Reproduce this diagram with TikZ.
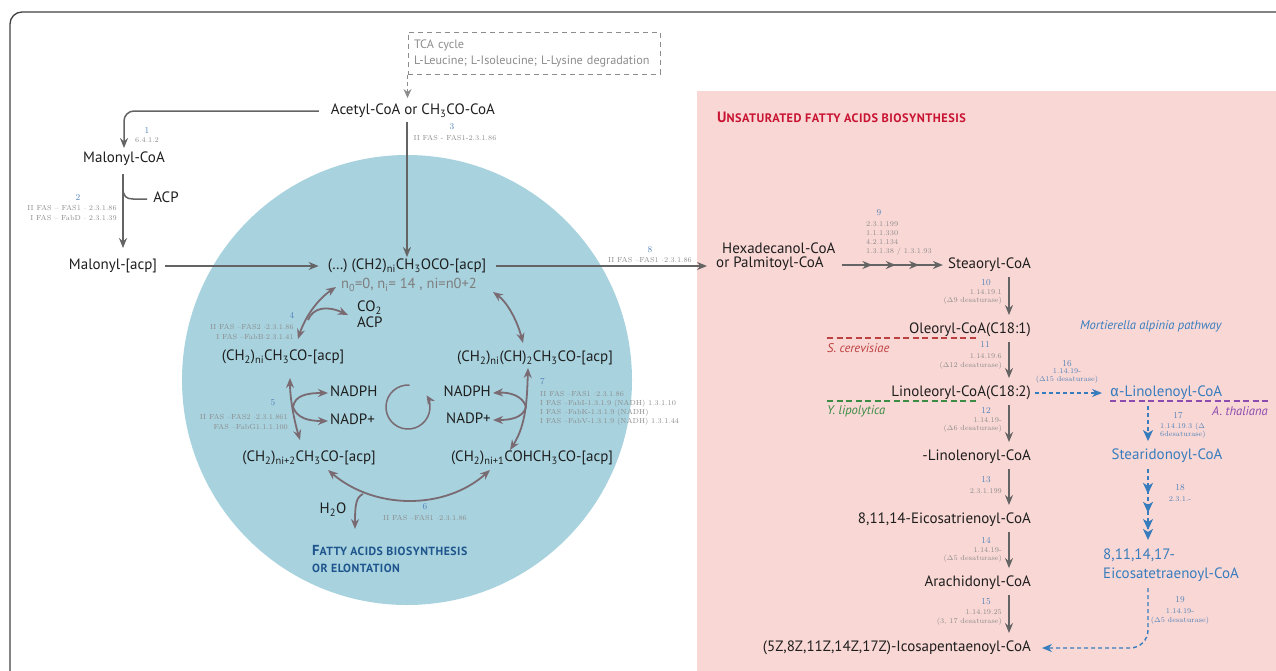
\documentclass[tikz,border=0pt]{standalone}
\usepackage{fontspec}
\newfontfamily\pts{PT Sans}
\newfontfamily\ptsls{PT Sans}[LetterSpace=4]
\newfontfamily\fir{Fira Sans}
\usetikzlibrary{arrows.meta,decorations.markings}
\newcommand\sbs[1]{\textsubscript{#1}}
\definecolor{txt}{RGB}{30,30,30}
\definecolor{garr}{RGB}{100,100,100}
\definecolor{carr}{RGB}{122,106,114}
\definecolor{enzg}{RGB}{140,140,140}
\definecolor{numb}{RGB}{80,130,185}
\definecolor{blu}{RGB}{55,125,190}
\definecolor{circbg}{RGB}{167,210,222}
\definecolor{pinkbg}{RGB}{249,215,212}
\definecolor{crim}{RGB}{200,20,50}
\definecolor{dblu}{RGB}{30,85,140}
\definecolor{redd}{RGB}{190,65,65}
\definecolor{grn}{RGB}{60,140,70}
\definecolor{purp}{RGB}{140,75,175}
\definecolor{tcag}{RGB}{140,140,140}
\begin{document}
\begin{tikzpicture}[x=1pt,y=-1pt,
  mol/.style={font=\pts\fontsize{15}{16}\selectfont, text=txt, inner sep=0pt, text height=10.5pt, text depth=3pt},
  mol2/.style={font=\pts\fontsize{15}{14}\selectfont, text=txt, inner sep=0pt},
  bmol/.style={mol, text=blu},
  bmol2/.style={font=\pts\fontsize{15}{19}\selectfont, text=blu, inner sep=0pt},
  enz/.style={font=\fontsize{7.3}{10}\selectfont, text=enzg, inner sep=0pt},
  benz/.style={enz, text=numb},
  num/.style={font=\fontsize{9}{10}\selectfont, text=numb, inner sep=0pt},
  garrow/.style={draw=garr, line width=1.5pt, -{Stealth[length=10pt,width=8pt]}},
  gline/.style={draw=garr, line width=1.5pt},
  carrow/.style={draw=carr, line width=1.8pt, {Stealth[length=10pt,width=8pt]}-{Stealth[length=10pt,width=8pt]}},
  carrowone/.style={draw=carr, line width=1.8pt, -{Stealth[length=10pt,width=8pt]}},
  bdash/.style={draw=blu, line width=1.4pt, dash pattern=on 4pt off 3pt},
  bhead/.style={-{Stealth[length=11pt,width=10pt,inset=3pt]}},
  sp/.style={font=\pts\itshape\fontsize{12.6}{14}\selectfont, inner sep=0pt},
  spline/.style={line width=1.3pt, dash pattern=on 6pt off 3.5pt}
]
\useasboundingbox (0,0) rectangle (1276,670);
\clip (0,0) rectangle (1276,670);
% frame
\draw[line width=1.3pt, draw=black!75, rounded corners=12pt] (10,700) -- (10,12) -- (1300,12);
% backgrounds
\fill[pinkbg] (697,91) rectangle (1290,700);
\fill[circbg] (407,380) circle (225);

% ---- top / left
\node[draw=tcag, line width=1pt, dash pattern=on 5pt off 4pt, minimum width=252pt, minimum height=42pt,
      text width=240pt, align=left, inner sep=0pt, text=tcag, font=\pts\fontsize{12.2}{16}\selectfont]
      (tca) at (534,53) {TCA cycle\\L-Leucine; L-Isoleucine; L-Lysine degradation};
\node[mol] (acetyl) at (413,111) {Acetyl-CoA or CH\sbs{3}CO-CoA};
\draw[draw=tcag, line width=1.2pt, dash pattern=on 4pt off 3pt, -{Stealth[length=9pt,width=8pt]}, shorten >=6pt]
      (tca.south west) -- (tca.south west |- acetyl.north);

\node[mol] (malcoa) at (124,159) {Malonyl-CoA};
\draw[garrow, rounded corners=10pt, shorten <=12pt, shorten >=4pt] (acetyl.west) -| (malcoa.north);
\node[num] (n1) at (147,130) {1};
\node[enz] (e1) at (147,140) {6.4.1.2};

\node[mol] (malacp) at (113,266) {Malonyl-[acp]};
\coordinate (c2) at (123,0);
\draw[garrow, shorten <=8pt, shorten >=11pt] (malcoa.south -| c2) -- (malacp.north -| c2);
\coordinate (acpb) at (123,188);
\node[mol] (acp) at (166,199) {ACP};
\draw[gline, shorten >=6pt] (acpb) .. controls (123,196) and (126,199) .. (133,199) -- (acp.west);
\node[num] (n2) at (78,197) {2};
\node[enz, anchor=east, align=right] (e2) at (117,213) {II FAS -- FAS1 $\cdot$ 2.3.1.86\\I FAS -- FabD $\cdot$ 2.3.1.39};

% ---- cycle
\node[mol] (cyc) at (407,266) {(\dots) (CH2)\sbs{ni}CH\sbs{3}OCO-[acp]};
\node[font=\pts\fontsize{14.5}{16}\selectfont, text=enzg!90!black, inner sep=0pt] (nline) at (409,285) {n\sbs{0}=0, n\sbs{i}= 14 , ni=n0+2};
\draw[garrow, shorten <=8pt, shorten >=9pt] (malacp.east) -- (cyc.west);
\draw[garrow, shorten <=4pt, shorten >=2pt] (cyc.north |- acetyl.south) -- (cyc.north);
\node[num] (n3) at (452,127) {3};
\node[enz] (e3) at (455,138) {II FAS - FAS1-2.3.1.86};

\node[mol] (m1) at (283,357) {(CH\sbs{2})\sbs{ni}CH\sbs{3}CO-[acp]};
\node[mol] (m2) at (535,358) {(CH\sbs{2})\sbs{ni}(CH)\sbs{2}CH\sbs{3}CO-[acp]};
\node[mol] (m3) at (309,458) {(CH\sbs{2})\sbs{ni+2}CH\sbs{3}CO-[acp]};
\node[mol] (m4) at (532,458) {(CH\sbs{2})\sbs{ni+1}COHCH\sbs{3}CO-[acp]};
\node[mol, anchor=west] (co2) at (357,308) {CO\sbs{2}};
\node[mol, anchor=west] (acp2) at (357,324) {ACP};
\node[mol, anchor=west] (nadph1) at (330,393) {NADPH};
\node[mol, anchor=west] (nadp1) at (330,421) {NADP+};
\node[mol, anchor=east] (nadph2) at (491,393) {NADPH};
\node[mol, anchor=east] (nadp2) at (491,420) {NADP+};
\node[mol] (h2o) at (333,510) {H\sbs{2}O};

% step 4
\coordinate (a4) at (336,287);
\coordinate (b4) at (298,339);
\coordinate (s4) at (308,320);
\draw[carrow] (a4) .. controls (318,299) and (305,317) .. (b4);
\draw[carrowone] (s4) .. controls (313,308) and (326,305) .. ([xshift=-9pt]co2.west |- co2.south);
\node[num] (n4) at (292,315) {4};
\node[enz, anchor=east, align=right] (e4) at (294,332) {II FAS --FAS2 $\cdot$2.3.1.86\\I FAS --FabB$\cdot$2.3.1.41};
% step 5
\coordinate (a5) at (290,378);
\coordinate (b5) at (300,440);
\coordinate (s5) at (293,407);
\draw[carrow] (a5) .. controls (290,398) and (294,420) .. (b5);
\draw[carrowone] (s5) .. controls (295,396) and (305,393) .. ([xshift=-2pt]nadph1.west);
\draw[carrowone] (s5) .. controls (297,418) and (308,421) .. ([xshift=-2pt]nadp1.west);
\node[num] (n5) at (273,403) {5};
\node[enz, anchor=east, align=right] (e5) at (288,422) {II FAS --FAS2 $\cdot$2.3.1.861\\FAS --FabG1.1.1.100};
% step 6
\coordinate (a6) at (328,470);
\coordinate (b6) at (490,470);
\coordinate (s6) at (363,494);
\draw[carrow] (a6) .. controls (375,510) and (445,510) .. (b6);
\draw[carrowone] (s6) .. controls (356,497) and (355,505) .. ([yshift=-12pt]h2o.south -| 355,0);
\node[num] (n6) at (425,507) {6};
\node[enz] (e6) at (425,518) {II FAS --FAS1 $\cdot$2.3.1.86};
% step 7
\coordinate (a7) at (528,368);
\coordinate (b7) at (510,450);
\coordinate (s7) at (526,407);
\draw[carrow] (a7) .. controls (527,400) and (526,425) .. (b7);
\draw[carrowone] (s7) .. controls (523,396) and (510,392) .. ([xshift=2pt]nadph2.east);
\draw[carrowone] (s7) .. controls (523,418) and (510,420) .. ([xshift=2pt]nadp2.east);
\node[num, anchor=west] (n7) at (540,382) {7};
\node[enz, anchor=north west, align=left, font=\fontsize{7.3}{9}\selectfont] (e7) at (540,391) {II FAS --FAS1 $\cdot$2.3.1.86\\I FAS --FabI-1.3.1.9 (NADH) 1.3.1.10\\I FAS --FabK-1.3.1.9 (NADH)\\I FAS --FabV-1.3.1.9 (NADH) 1.3.1.44};
% closing
\coordinate (a8) at (493,292);
\coordinate (b8) at (523,343);
\draw[carrow] (a8) .. controls (507,302) and (517,320) .. (b8);
% centre loop
\draw[draw=carr, line width=1.5pt, -{Stealth[length=9pt,width=8pt]}] (409.5,385.1) arc[start angle=-86, end angle=-392, radius=22];

\node[anchor=west, align=left, text=dblu, font=\ptsls\bfseries\fontsize{11.8}{17}\selectfont, inner sep=0pt] (fa) at (312,558.5)
  {{\fontsize{14.5}{17}\selectfont F}ATTY ACIDS BIOSYNTHESIS\\OR ELONTATION};

% ---- to the right
\node[mol2, anchor=west, align=left] (hexa) at (716,257) {\hspace*{6pt}Hexadecanol-CoA\\or Palmitoyl-CoA};
\draw[garrow, shorten <=10pt, shorten >=9pt] (cyc.east) -- (cyc.east -| hexa.west);
\node[num] (n8) at (650,250) {8};
\node[enz] (e8) at (650,260) {II FAS --FAS1 $\cdot$2.3.1.86};

\node[anchor=west, text=crim, font=\ptsls\bfseries, inner sep=0pt] (title) at (717,117)
  {{\fontsize{15}{15}\selectfont U}{\fontsize{12.3}{12}\selectfont NSATURATED FATTY ACIDS BIOSYNTHESIS}};

\node[mol, anchor=east] (stea) at (1031,265) {Steaoryl-CoA};
\draw[gline, postaction=decorate, -{Stealth[length=10pt,width=8pt]},
  decoration={markings,
    mark=at position 0.29 with {\arrow{Stealth[length=10pt,width=8pt]}},
    mark=at position 0.51 with {\arrow{Stealth[length=10pt,width=8pt]}},
    mark=at position 0.73 with {\arrow{Stealth[length=10pt,width=8pt]}}},
  shorten >=5pt] ([xshift=6pt]hexa.east |- stea.west) -- (stea.west);
\node[num] (n9) at (879,213) {9};
\node[enz, anchor=north west, align=left, font=\fontsize{7.3}{9.3}\selectfont] (e9) at (866,221) {2.3.1.199\\1.1.1.330\\4.2.1.134\\1.3.1.38 / 1.3.1.93};

\node[mol, anchor=east] (olea) at (1031,330) {Oleoryl-CoA(C18:1)};
\node[mol, anchor=east] (lino) at (1031,393) {Linoleoryl-CoA(C18:2)};
\node[mol, anchor=east] (glin) at (1031,457) {-Linolenoryl-CoA};
\node[mol, anchor=east] (eico) at (1031,520) {8,11,14-Eicosatrienoyl-CoA};
\node[mol, anchor=east] (arac) at (1031,583) {Arachidonyl-CoA};
\node[mol, anchor=east] (icos) at (1031,648) {(5Z,8Z,11Z,14Z,17Z)-Icosapentaenoyl-CoA};

\coordinate (cx) at (1009,0);
\foreach \a/\b in {stea/olea, olea/lino, lino/glin, glin/eico, eico/arac, arac/icos}
  \draw[garrow, shorten <=5pt, shorten >=8pt] (\a.south -| cx) -- (\b.north -| cx);

\node[num] (n10) at (986,283) {10};
\node[enz, anchor=east, align=right, font=\fontsize{7.3}{8}\selectfont] (e10) at (1002,297) {1.14.19.1\\($\Delta$9 desaturase)};
\node[num] (n11) at (985,344) {11};
\node[enz, anchor=east, align=right, font=\fontsize{7.3}{9}\selectfont] (e11) at (1002,361.5) {1.14.19.6\\($\Delta$12 desaturase)};
\node[num] (n12) at (986,410) {12};
\node[enz, anchor=east, align=right, font=\fontsize{7.3}{8}\selectfont] (e12) at (1002,425) {1.14.19-\\($\Delta$6 desaturase)};
\node[num] (n13) at (986,480) {13};
\node[enz, anchor=east] (e13) at (1002,491) {2.3.1.199};
\node[num] (n14) at (986,540) {14};
\node[enz, anchor=east, align=right, font=\fontsize{7.3}{8}\selectfont] (e14) at (1002,555) {1.14.19-\\($\Delta$5 desaturase)};
\node[num] (n15) at (986,602) {15};
\node[enz, anchor=east, align=right, font=\fontsize{7.3}{9}\selectfont] (e15) at (1002,617.5) {1.14.19.25\\(3, 17 desaturase)};

% species
\draw[spline, draw=redd] (827,338) -- (978,338);
\node[sp, text=redd, anchor=west] (sc) at (827,348) {S. cerevisiae};
\draw[spline, draw=grn] (827,401) -- (978,401);
\node[sp, text=grn, anchor=west] (yl) at (827,411) {Y. lipolytica};
\draw[spline, draw=purp] (1110,401) -- (1268,401);
\node[sp, text=purp, anchor=east] (at) at (1268,411) {A. thaliana};
\node[sp, text=blu, anchor=west] (mort) at (1080,326) {Mortierella alpinia pathway};

% blue pathway
\node[bmol, anchor=west] (alin) at (1110,393) {{\fir α}-Linolenoyl-CoA};
\node[bmol] (stear) at (1167,456) {Stearidonoyl-CoA};
\node[bmol2, anchor=west, align=left] (etet) at (1103,565.5) {8,11,14,17-\\Eicosatetraenoyl-CoA};
\coordinate (bx) at (1148,0);

\draw[bdash, -{Stealth[length=10pt,width=8pt]}, shorten <=4pt, shorten >=8pt] (lino.east) -- (alin.west);
\node[num] (n16) at (1067,364) {16};
\node[benz, align=center, font=\fontsize{7.3}{8}\selectfont] (e16) at (1067,376) {1.14.19-\\($\Delta$15 desaturase)};

\draw[bdash, bhead, shorten <=6pt, shorten >=8pt] (alin.south -| bx) -- (stear.north -| bx);
\node[num] (n17) at (1178,416) {17};
\node[benz, anchor=west, align=left, font=\fontsize{7.3}{8}\selectfont] (e17) at (1160,431) {1.14.19.3 ($\Delta$\\6desaturase)};

\draw[bdash, bhead, postaction=decorate,
  decoration={markings,
    mark=at position 0.36 with {\arrow{Stealth[length=11pt,width=10pt,inset=3pt]}},
    mark=at position 0.58 with {\arrow{Stealth[length=11pt,width=10pt,inset=3pt]}},
    mark=at position 0.78 with {\arrow{Stealth[length=11pt,width=10pt,inset=3pt]}}},
  shorten <=6pt, shorten >=9pt] (stear.south -| bx) -- (etet.north -| bx);
\node[num] (n18) at (1180,488) {18};
\node[benz] (e18) at (1180,499) {2.3.1.-};

\draw[bdash, rounded corners=18pt, -{Stealth[length=10pt,width=8pt]}, shorten <=6pt, shorten >=11pt]
  (etet.south -| bx) |- (icos.east);
\node[num] (n19) at (1180,600) {19};
\node[benz, align=center, font=\fontsize{7.3}{9}\selectfont] (e19) at (1180,616.5) {1.14.19-\\($\Delta$5 desaturase)};
\end{tikzpicture}
\end{document}
